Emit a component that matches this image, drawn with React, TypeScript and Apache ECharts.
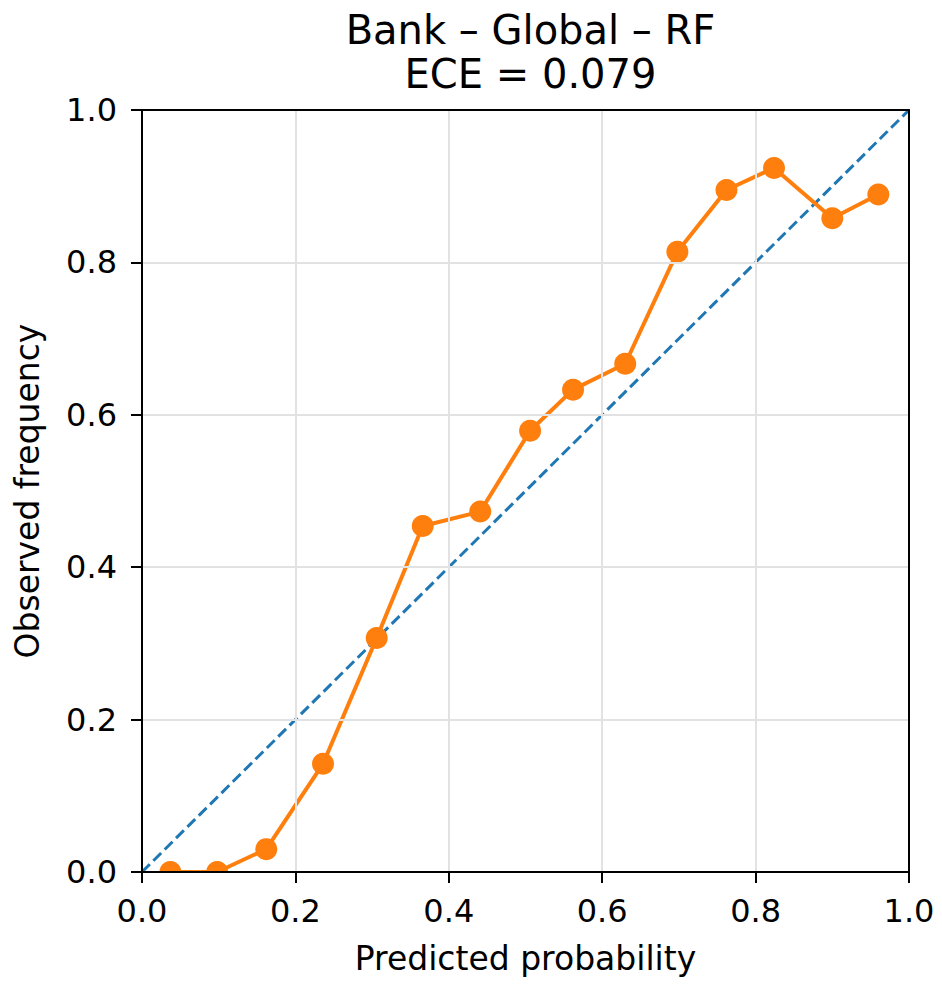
import React, { useEffect, useRef } from "react";
import * as echarts from "echarts";

const titleLines = ["Bank – Global – RF", "ECE = 0.079"];
const xLabel = "Predicted probability";
const yLabel = "Observed frequency";
const predicted = [0.037, 0.098, 0.162, 0.236, 0.306, 0.366, 0.441, 0.506, 0.562, 0.630, 0.698, 0.762, 0.824, 0.900, 0.960];
const observed = [0.0, 0.0, 0.030, 0.142, 0.307, 0.454, 0.473, 0.579, 0.633, 0.667, 0.814, 0.895, 0.924, 0.858, 0.889];
const diagonal = [[0, 0], [1, 1]];

const FONT = "DejaVu Sans";
const G = { left: 142, right: 33, top: 110, bottom: 113 };

export default function App() {
  const ref = useRef<HTMLDivElement>(null);
  useEffect(() => {
    if (!ref.current) return;
    const chart = echarts.init(ref.current, undefined, { renderer: "svg" });
    const W = 942, H = 985;
    const axisCommon = {
      min: 0,
      max: 1,
      interval: 0.2,
      axisLine: { show: true, onZero: false, lineStyle: { color: "#000", width: 2 } },
      axisTick: { show: true, length: 11, lineStyle: { color: "#000", width: 2 } },
      axisLabel: {
        color: "#000",
        fontSize: 32,
        fontFamily: FONT,
        formatter: (v: number) => v.toFixed(1),
      },
      splitLine: { show: true, lineStyle: { color: "#e2e2e2", width: 2 } },
      nameLocation: "middle" as const,
      nameTextStyle: { color: "#000", fontSize: 33, fontFamily: FONT },
      z: 5,
    };
    const frameAxis = {
      min: 0,
      max: 1,
      interval: 0.2,
      axisLine: { show: true, onZero: false, lineStyle: { color: "#000", width: 2 } },
      axisTick: { show: false },
      axisLabel: { show: false },
      splitLine: { show: false },
      z: 6,
    };
    chart.setOption({
      animation: false,
      backgroundColor: "#fff",
      title: {
        text: titleLines.join("\n"),
        left: (G.left + (W - G.right)) / 2,
        top: 3,
        textAlign: "center",
        textStyle: { fontSize: 40, fontWeight: "normal", color: "#000", fontFamily: FONT, lineHeight: 44 },
      },
      grid: { ...G },
      xAxis: [
        {
          ...axisCommon,
          type: "value",
          name: xLabel,
          nameGap: 70,
          axisLabel: { ...axisCommon.axisLabel, margin: 23 },
        },
        { ...frameAxis, type: "value", position: "top" },
      ],
      yAxis: [
        {
          ...axisCommon,
          type: "value",
          name: yLabel,
          nameGap: 98,
          axisLabel: { ...axisCommon.axisLabel, margin: 25 },
        },
        { ...frameAxis, type: "value", position: "right" },
      ],
      graphic: [
        {
          type: "rect",
          shape: { x: G.left - 15, y: H - G.bottom + 1, width: W - G.left - G.right + 30, height: 14 },
          style: { fill: "#fff" },
          z: 3,
          silent: true,
        },
      ],
      series: [
        {
          type: "line",
          data: diagonal,
          showSymbol: false,
          symbol: "none",
          lineStyle: { color: "#1f77b4", width: 3, type: [11, 5] },
          z: 1,
        },
        {
          type: "line",
          data: predicted.map((p, i) => [p, observed[i]]),
          symbol: "circle",
          symbolSize: 22,
          itemStyle: { color: "#ff7f0e" },
          lineStyle: { color: "#ff7f0e", width: 4 },
          z: 2,
        },
      ],
    });
    return () => chart.dispose();
  }, []);
  return <div ref={ref} style={{ width: 942, height: 985, position: "absolute", left: 0, top: 0 }} />;
}
